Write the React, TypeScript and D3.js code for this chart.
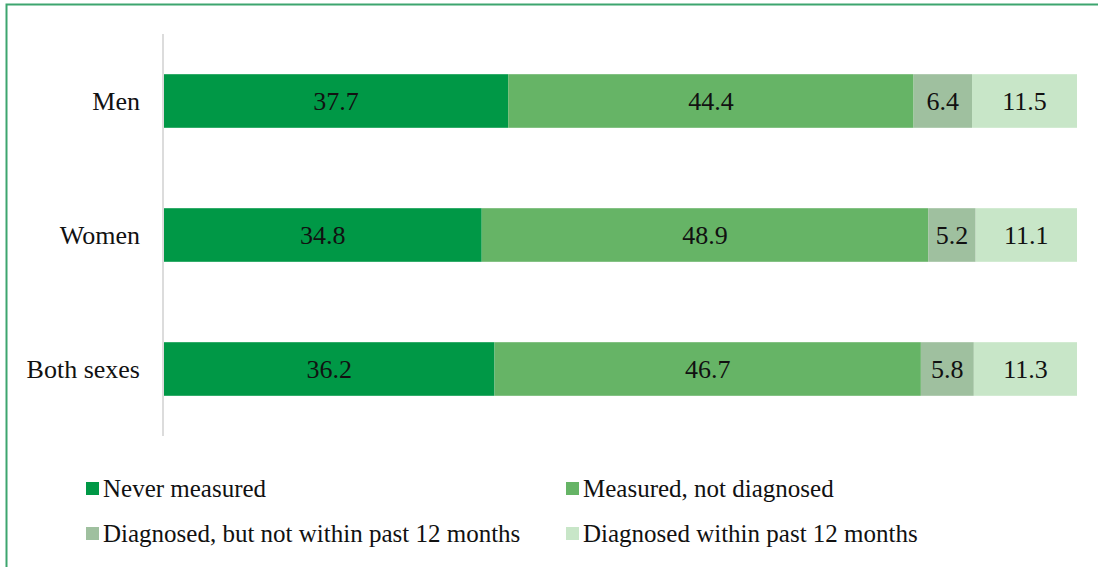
// stacked bar chart: blood pressure measurement status by sex
import React from 'react';
import * as d3 from 'd3';

const W = 1098;
const H = 567;
const FONT = 'Liberation Serif';

// categories, top to bottom
const groups = ['Men', 'Women', 'Both sexes'];

// series (percent)
const seriesNames = [
    'Never measured',
    'Measured, not diagnosed',
    'Diagnosed, but not within past 12 months',
    'Diagnosed within past 12 months',
];
const neverMeasured = [37.7, 34.8, 36.2];
const measuredNotDiagnosed = [44.4, 48.9, 46.7];
const diagnosedNotRecent = [6.4, 5.2, 5.8];
const diagnosedRecent = [11.5, 11.1, 11.3];

const seriesColors = ['#009846', '#66b466', '#9fc09f', '#c8e6c8'];

const margin = { top: 34, right: 21, bottom: 131, left: 164 };

export default function App() {
    const values = [neverMeasured, measuredNotDiagnosed, diagnosedNotRecent, diagnosedRecent];
    const rows = groups.map((g, i) => {
        const row: any = { group: g };
        seriesNames.forEach((s, j) => { row[s] = values[j][i]; });
        return row;
    });
    const stacked = d3.stack().keys(seriesNames)(rows);

    const x = d3.scaleLinear()
        .domain([0, 100])
        .range([margin.left, W - margin.right]);

    const y = d3.scaleBand()
        .domain(groups)
        .range([margin.top, H - margin.bottom])
        .paddingInner(0.6)
        .paddingOuter(0.3);

    return (
        <svg width={W} height={H}
             style={{ position: 'absolute', left: 0, top: 0, background: '#fff' }}>
            {/* outer frame */}
            <rect x={6.5} y={4.5} width={W} height={H} fill="none" stroke="#3da56f" strokeWidth={2} />

            {/* bars and value labels */}
            {stacked.map((layer, i) => (
                <g key={layer.key} fill={seriesColors[i]}>
                    {layer.map((p, j) => (
                        <rect key={j}
                              x={x(p[0])}
                              y={y(groups[j])}
                              width={x(p[1]) - x(p[0])}
                              height={y.bandwidth()} />
                    ))}
                </g>
            ))}
            {stacked.map((layer, i) => layer.map((p, j) => (
                <text key={layer.key + j}
                      x={(x(p[0]) + x(p[1])) / 2}
                      y={y(groups[j])! + y.bandwidth() / 2}
                      dy="0.33em"
                      textAnchor="middle"
                      fill="#111"
                      style={{ fontFamily: FONT, fontSize: 26 }}>
                    {values[i][j].toFixed(1)}
                </text>
            )))}

            {/* category axis */}
            <line x1={margin.left - 1} x2={margin.left - 1} y1={margin.top} y2={H - margin.bottom}
                  stroke="#d0d0d0" strokeWidth={1.5} />
            {groups.map(g => (
                <text key={g} x={140} y={y(g)! + y.bandwidth() / 2} dy="0.33em" textAnchor="end"
                      fill="#111" style={{ fontFamily: FONT, fontSize: 26 }}>
                    {g}
                </text>
            ))}

            {/* legend, two columns */}
            {seriesNames.map((s, i) => (
                <g key={s} transform={`translate(${i % 2 === 0 ? 86 : 566},${i < 2 ? 482 : 527})`}>
                    <rect width={13} height={13} fill={seriesColors[i]} />
                    <text x={17} y={15} fill="#111" style={{ fontFamily: FONT, fontSize: 25 }}>{s}</text>
                </g>
            ))}
        </svg>
    );
}
